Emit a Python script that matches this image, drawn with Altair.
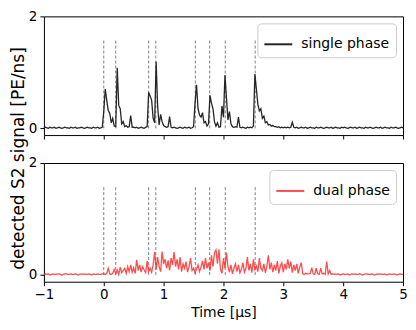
import altair as alt
import numpy as np
import pandas as pd

# sampling grid (µs)
dt = 0.025
t_grid = np.round(np.arange(-1.0, 5.0 + dt / 2, dt), 3)

# ---- single phase (black) ----
single_pre = [0.01, 0.02, 0.01, 0.00, 0.02, 0.01, 0.01, 0.02, 0.00, 0.01,
              0.02, 0.01, 0.00, 0.01, 0.02, 0.01, 0.01, 0.00, 0.02, 0.01,
              0.01, 0.02, 0.00, 0.01, 0.01, 0.02, 0.01, 0.00, 0.01, 0.02,
              0.01, 0.01, 0.00, 0.02, 0.01, 0.01, 0.02, 0.00, 0.01, 0.02]
single_active = [
    0.30, 0.70, 0.50, 0.32, 0.27, 0.10, 0.18, 0.04, 0.03, 1.08,
    0.41, 0.35, 0.08, 0.12, 0.03, 0.05, 0.02, 0.03, 0.23, 0.02,
    0.02, 0.01, 0.02, 0.00, 0.01, 0.02, 0.01, 0.00, 0.02, 0.03,
    0.64, 0.58, 0.50, 0.18, 0.10, 1.19, 0.40, 0.06, 0.25, 0.12,
    0.05, 0.03, 0.02, 0.03, 0.21, 0.02, 0.01, 0.02, 0.01, 0.00,
    0.01, 0.02, 0.01, 0.00, 0.02, 0.01, 0.01, 0.02, 0.00, 0.01,
    0.03, 0.45, 0.78, 0.35, 0.24, 0.20, 0.28, 0.10, 0.12, 0.04,
    0.08, 0.59, 0.45, 0.35, 0.12, 0.04, 0.10, 0.02, 0.03, 0.40,
    0.20, 0.95, 0.55, 0.15, 0.30, 0.08, 0.03, 0.02, 0.03, 0.02,
    0.20, 0.02, 0.01, 0.02, 0.01, 0.00, 0.02, 0.01, 0.02, 0.01,
    0.04, 0.97, 0.70, 0.43, 0.31, 0.35, 0.18, 0.22, 0.10, 0.12,
    0.06, 0.07, 0.04, 0.05, 0.03, 0.03, 0.02, 0.03, 0.01, 0.02,
    0.01, 0.02, 0.01, 0.02, 0.01, 0.02, 0.11, 0.02, 0.01, 0.02,
    0.00, 0.01, 0.02, 0.01, 0.01, 0.02, 0.00, 0.01, 0.02, 0.01,
    0.01, 0.00, 0.02, 0.01, 0.01, 0.02, 0.01, 0.00, 0.01, 0.02,
    0.01, 0.01, 0.02, 0.00, 0.01, 0.02, 0.01, 0.01, 0.00, 0.02]
single_post = [0.01, 0.02, 0.01, 0.00, 0.01, 0.02, 0.01, 0.01, 0.02, 0.00,
               0.01, 0.02, 0.01, 0.01, 0.00, 0.02, 0.01, 0.01, 0.02, 0.01,
               0.00, 0.01, 0.02, 0.01, 0.01, 0.02, 0.00, 0.01, 0.02, 0.01,
               0.01, 0.00, 0.02, 0.01, 0.01, 0.02, 0.01, 0.00, 0.01, 0.02,
               0.01]

# ---- dual phase (red) ----
dual_pre = [0.01, 0.02, 0.01, 0.02, 0.00, 0.01, 0.02, 0.01, 0.01, 0.02,
            0.02, 0.01, 0.00, 0.01, 0.02, 0.02, 0.01, 0.01, 0.02, 0.01,
            0.01, 0.02, 0.01, 0.00, 0.01, 0.02, 0.01, 0.02, 0.01, 0.01,
            0.02, 0.01, 0.00, 0.02, 0.01, 0.01, 0.02, 0.01, 0.01, 0.02]
dual_active = [
    0.02, 0.01, 0.03, 0.12, 0.02, 0.01, 0.03, 0.10, 0.02, 0.09,
    0.01, 0.14, 0.04, 0.08, 0.12, 0.03, 0.15, 0.06, 0.18, 0.05,
    0.13, 0.03, 0.27, 0.08, 0.18, 0.05, 0.15, 0.09, 0.04, 0.25,
    0.06, 0.12, 0.05, 0.18, 0.41, 0.10, 0.32, 0.15, 0.06, 0.42,
    0.20, 0.28, 0.12, 0.26, 0.08, 0.30, 0.18, 0.41, 0.15, 0.28,
    0.10, 0.32, 0.06, 0.20, 0.12, 0.24, 0.05, 0.15, 0.30, 0.08,
    0.12, 0.04, 0.10, 0.18, 0.06, 0.14, 0.25, 0.10, 0.30, 0.12,
    0.22, 0.08, 0.35, 0.15, 0.40, 0.45, 0.20, 0.46, 0.10, 0.03,
    0.30, 0.12, 0.40, 0.15, 0.05, 0.18, 0.02, 0.12, 0.20, 0.06,
    0.18, 0.04, 0.10, 0.22, 0.05, 0.12, 0.32, 0.08, 0.20, 0.04,
    0.28, 0.10, 0.16, 0.06, 0.30, 0.12, 0.08, 0.20, 0.04, 0.15,
    0.35, 0.10, 0.22, 0.05, 0.18, 0.08, 0.25, 0.03, 0.16, 0.22,
    0.05, 0.20, 0.10, 0.28, 0.12, 0.24, 0.04, 0.18, 0.08, 0.20,
    0.03, 0.14, 0.22, 0.02, 0.01, 0.03, 0.02, 0.02, 0.03, 0.13,
    0.02, 0.01, 0.12, 0.02, 0.01, 0.12, 0.02, 0.03, 0.01, 0.24,
    0.02, 0.08, 0.01, 0.02, 0.01, 0.02, 0.01, 0.02, 0.00, 0.01]
dual_post = [0.02, 0.01, 0.01, 0.02, 0.00, 0.01, 0.02, 0.01, 0.02, 0.01,
             0.01, 0.02, 0.01, 0.00, 0.01, 0.02, 0.02, 0.01, 0.01, 0.02,
             0.01, 0.00, 0.01, 0.02, 0.01, 0.02, 0.01, 0.01, 0.02, 0.00,
             0.01, 0.02, 0.01, 0.01, 0.02, 0.01, 0.00, 0.01, 0.02, 0.01,
             0.01]

# dashed marker times (µs)
marker_times = [0.0, 0.2, 0.75, 0.87, 1.53, 1.77, 2.03, 2.53]
marker_top = 1.6

single_vals = single_pre + single_active + single_post
dual_vals = dual_pre + dual_active + dual_post

df_single = pd.DataFrame({"t": t_grid, "v": single_vals, "series": "single phase"})
df_dual = pd.DataFrame({"t": t_grid, "v": dual_vals, "series": "dual phase"})
df_marks = pd.DataFrame({"t": marker_times, "y0": 0.0, "y1": marker_top})

FONT = "DejaVu Sans"


def panel(df, name, color, opac, bottom):
    x_axis = alt.Axis(values=[-1, 0, 1, 2, 3, 4, 5], labels=bottom, tickSize=4,
                      title="Time [μs]" if bottom else None, format="d",
                      titlePadding=4, labelPadding=2, grid=False, domain=False,
                      labelFlush=False,
                      labelFontSize=13.5, titleFontSize=14, labelFont=FONT,
                      titleFont=FONT, titleFontWeight="normal",
                      labelColor="black", titleColor="black", tickColor="black")
    y_axis = alt.Axis(values=[0, 1, 2], tickSize=4, labelPadding=3, format="d",
                      title="detected S2 signal [PE/ns]" if bottom else None,
                      titleY=-5, titlePadding=1, grid=False, domain=False,
                      labelFlush=False,
                      labelFontSize=13.5, titleFontSize=17, labelFont=FONT,
                      titleFont=FONT, titleFontWeight="normal",
                      labelColor="black", titleColor="black", tickColor="black")
    xs = alt.Scale(domain=[-1, 5], nice=False, padding=0)
    ys = alt.Scale(domain=[-0.12, 2], nice=False, zero=False, padding=0)
    line = alt.Chart(df).mark_line(strokeWidth=1.3, opacity=opac).encode(
        x=alt.X("t:Q", scale=xs, axis=x_axis),
        y=alt.Y("v:Q", scale=ys, axis=y_axis),
        color=alt.Color(
            "series:N",
            scale=alt.Scale(domain=[name], range=[color]),
            legend=alt.Legend(
                title=None, orient="top-right", offset=7, symbolType="stroke",
                symbolSize=784, symbolStrokeWidth=2, symbolOpacity=opac,
                labelFontSize=14, labelFont=FONT, labelColor="black",
                strokeColor="#cccccc", cornerRadius=4, padding=6,
                fillColor="white", labelOffset=8,
            ),
        ),
    )
    rules = alt.Chart(df_marks).mark_rule(
        strokeDash=[3, 2], color="#808080", strokeWidth=1
    ).encode(
        x=alt.X("t:Q", scale=xs, axis=x_axis),
        y=alt.Y("y0:Q", scale=ys, axis=y_axis),
        y2=alt.Y2("y1:Q"),
    )
    return alt.layer(rules, line).properties(width=360, height=119)


top = panel(df_single, "single phase", "#1a1a1a", 0.95, False)
bot = panel(df_dual, "dual phase", "#ff2020", 0.8, True)

chart = alt.vconcat(top, bot, spacing=28, bounds="flush").resolve_scale(
    color="independent"
).properties(
    padding=0
).configure_view(
    stroke="black", strokeWidth=1
)

chart.save("out.html", embed_options={"renderer": "svg", "actions": False})
